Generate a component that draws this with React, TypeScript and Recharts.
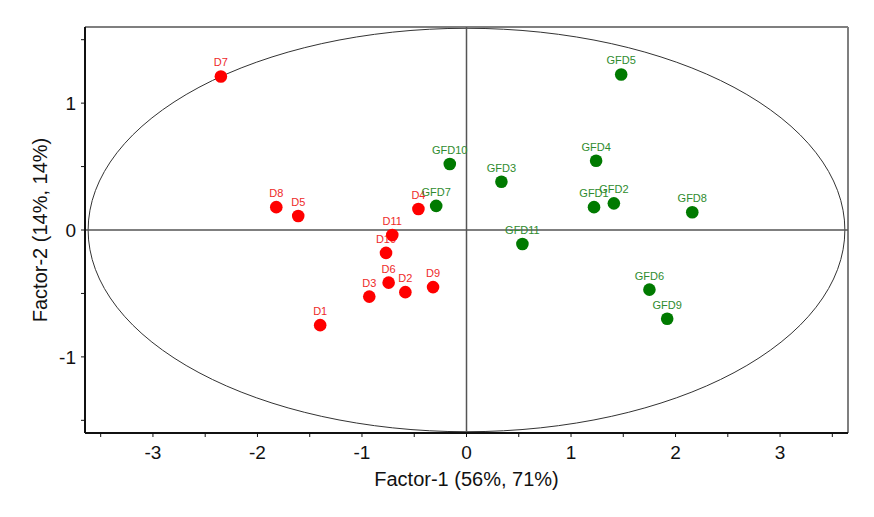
import {
  ReferenceArea,
  ReferenceLine,
  Scatter,
  ScatterChart,
  XAxis,
  YAxis,
} from "recharts";

type ScorePoint = { name: string; x: number; y: number };

const dPoints: ScorePoint[] = [
  { name: "D1", x: -1.4, y: -0.75 },
  { name: "D2", x: -0.585, y: -0.49 },
  { name: "D3", x: -0.93, y: -0.525 },
  { name: "D4", x: -0.46, y: 0.165 },
  { name: "D5", x: -1.61, y: 0.11 },
  { name: "D6", x: -0.745, y: -0.415 },
  { name: "D7", x: -2.35, y: 1.21 },
  { name: "D8", x: -1.82, y: 0.18 },
  { name: "D9", x: -0.32, y: -0.45 },
  { name: "D10", x: -0.77, y: -0.18 },
  { name: "D11", x: -0.71, y: -0.04 },
];

const gfdPoints: ScorePoint[] = [
  { name: "GFD1", x: 1.22, y: 0.18 },
  { name: "GFD2", x: 1.41, y: 0.21 },
  { name: "GFD3", x: 0.334, y: 0.38 },
  { name: "GFD4", x: 1.24, y: 0.546 },
  { name: "GFD5", x: 1.48, y: 1.226 },
  { name: "GFD6", x: 1.75, y: -0.47 },
  { name: "GFD7", x: -0.29, y: 0.19 },
  { name: "GFD8", x: 2.16, y: 0.14 },
  { name: "GFD9", x: 1.92, y: -0.7 },
  { name: "GFD10", x: -0.16, y: 0.52 },
  { name: "GFD11", x: 0.535, y: -0.11 },
];

const xTicks = [-3.5, -3, -2.5, -2, -1.5, -1, -0.5, 0, 0.5, 1, 1.5, 2, 2.5, 3, 3.5];
const yTicks = [-1.5, -1, -0.5, 0, 0.5, 1, 1.5];

const xDomain: [number, number] = [-3.65, 3.65];
const yDomain: [number, number] = [-1.6, 1.6];

// confidence ellipse half-axes, in score units
const ellipseRx = 3.62;
const ellipseRy = 1.59;

const FONT = '"Liberation Sans", Arial, sans-serif';

const intLabel = (v: number) => (Number.isInteger(v) ? String(v) : "");

function makeDot(fill: string, textFill: string) {
  return (props: any) => {
    const { cx, cy, payload } = props;
    return (
      <g>
        <circle cx={cx} cy={cy} r={6.3} fill={fill} />
        <text
          x={cx}
          y={cy - 10}
          textAnchor="middle"
          fontSize={11}
          fontFamily={FONT}
          fill={textFill}
        >
          {payload.name}
        </text>
      </g>
    );
  };
}

function EllipseShape(props: any) {
  const { x, y, width, height } = props;
  return (
    <ellipse
      cx={x + width / 2}
      cy={y + height / 2}
      rx={width / 2}
      ry={height / 2}
      fill="none"
      stroke="#333"
      strokeWidth={1}
    />
  );
}

export default function App() {
  const tickStyle = { fontSize: 19, fill: "#111", fontFamily: FONT };
  return (
    <div style={{ position: "absolute", left: 0, top: 0, background: "#fff" }}>
      <ScatterChart
        width={874}
        height={517}
        margin={{ top: 27, right: 26, left: 0, bottom: 0 }}
      >
        <XAxis
          type="number"
          dataKey="x"
          domain={xDomain}
          allowDataOverflow
          ticks={xTicks}
          tickFormatter={intLabel}
          interval={0}
          height={84}
          tickSize={4}
          tickMargin={9}
          tick={tickStyle}
          stroke="#111"
          axisLine={{ stroke: "#111", strokeWidth: 2 }}
          label={{
            value: "Factor-1 (56%, 71%)",
            position: "center",
            dy: 4,
            style: { fontSize: 20, fill: "#111", fontFamily: FONT },
          }}
        />
        <YAxis
          type="number"
          dataKey="y"
          domain={yDomain}
          allowDataOverflow
          ticks={yTicks}
          tickFormatter={intLabel}
          interval={0}
          width={85}
          tickSize={4}
          tickMargin={5}
          tick={tickStyle}
          stroke="#111"
          axisLine={{ stroke: "#111", strokeWidth: 2 }}
          label={{
            value: "Factor-2 (14%, 14%)",
            angle: -90,
            position: "center",
            dx: -3,
            style: { fontSize: 20, fill: "#111", fontFamily: FONT, textAnchor: "middle" },
          }}
        />
        {/* grey top and right frame edges */}
        <ReferenceLine y={yDomain[1]} stroke="#7f7f7f" strokeWidth={2} ifOverflow="visible" />
        <ReferenceLine x={xDomain[1]} stroke="#7f7f7f" strokeWidth={2} ifOverflow="visible" />
        <ReferenceArea
          x1={-ellipseRx}
          x2={ellipseRx}
          y1={-ellipseRy}
          y2={ellipseRy}
          ifOverflow="visible"
          shape={EllipseShape}
        />
        <ReferenceLine x={0} stroke="#555" strokeWidth={1.5} />
        <ReferenceLine y={0} stroke="#555" strokeWidth={1.5} />
        <Scatter
          name="D"
          data={dPoints}
          shape={makeDot("#ff0000", "#ee2a2a")}
          isAnimationActive={false}
        />
        <Scatter
          name="GFD"
          data={gfdPoints}
          shape={makeDot("#007a00", "#2e8b2e")}
          isAnimationActive={false}
        />
      </ScatterChart>
    </div>
  );
}
